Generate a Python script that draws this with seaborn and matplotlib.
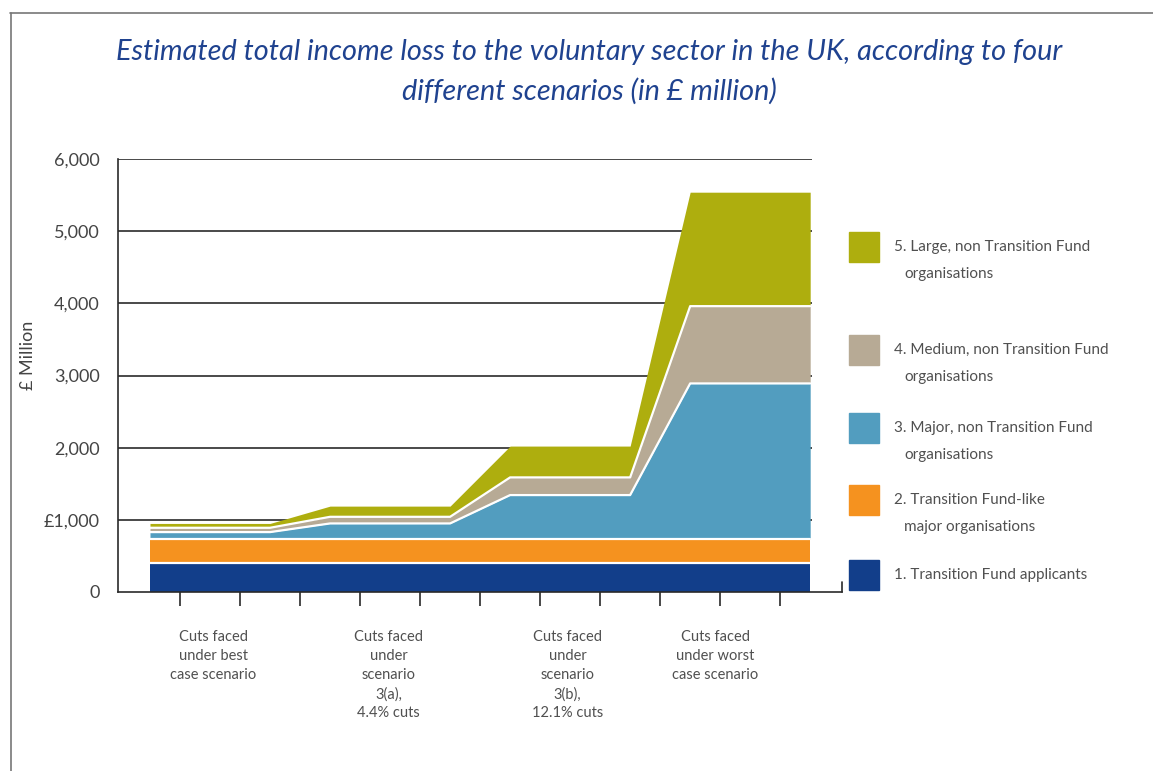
import numpy as np
import pandas as pd
import matplotlib
matplotlib.use("Agg")
import matplotlib.pyplot as plt
from matplotlib.patches import Rectangle
from matplotlib.lines import Line2D
import seaborn as sns

# Scenario labels (x axis) and the losses by organisation type (£ million)
scenarios = [
    "Cuts faced\nunder best\ncase scenario",
    "Cuts faced\nunder\nscenario\n3(a),\n4.4% cuts",
    "Cuts faced\nunder\nscenario\n3(b),\n12.1% cuts",
    "Cuts faced\nunder worst\ncase scenario",
]
groups = [
    "1. Transition Fund applicants",
    "2. Transition Fund-like\n  major organisations",
    "3. Major, non Transition Fund\n  organisations",
    "4. Medium, non Transition Fund\n  organisations",
    "5. Large, non Transition Fund\n  organisations",
]
tf_applicants = [405, 405, 405, 405]
tf_like_major = [330, 330, 330, 330]
major_non_tf = [95, 215, 608, 2155]
medium_non_tf = [60, 92, 245, 1071]
large_non_tf = [60, 148, 434, 1579]
y_ticks = [0, 1000, 2000, 3000, 4000, 5000, 6000]
y_tick_labels = ["0", "£1,000", "2,000", "3,000", "4,000", "5,000", "6,000"]

colors = ["#123e8a", "#f5921f", "#529dbf", "#b7aa95", "#aeae0e"]
text_grey = "#505050"

sns.set_theme(style="white")
plt.rcParams["font.family"] = ["Lato", "DejaVu Sans"]

# each scenario is drawn as a plateau two units wide, one unit between plateaus
plateau_start = np.array([0, 3, 6, 9])
plateau_width = 2
x = np.column_stack([plateau_start, plateau_start + plateau_width]).ravel()

layers = [tf_applicants, tf_like_major, major_non_tf, medium_non_tf, large_non_tf]
df = pd.DataFrame({g: np.repeat(v, 2) for g, v in zip(groups, layers)})
df["x"] = x
cum = df[groups].cumsum(axis=1)

fig = plt.figure(figsize=(11.53, 7.71), dpi=100)
W, H = 1153, 771
ax = fig.add_axes([118 / W, 1 - 592 / H, (842 - 118) / W, (592 - 159) / H])

xmin, xmax = -0.533, 11.53
ax.set_xlim(xmin, xmax)
ax.set_ylim(0, 6000)

# horizontal guides behind the areas
ax.hlines(y_ticks[1:], xmin, 11.03, color="#2a2a2a", lw=1.2, zorder=0)

lower = np.zeros(len(df))
for g, c in zip(groups, colors):
    upper = cum[g].to_numpy()
    ax.fill_between(df["x"], lower, upper, color=c, lw=0, zorder=2)
    lower = upper

# white separators between the stacked layers
for g in groups[:-1]:
    sns.lineplot(x=df["x"], y=cum[g], ax=ax, color="white", lw=1.6,
                 zorder=3, legend=False)

ax.set_xlabel("")
ax.set_ylabel("")
for s in ["top", "right"]:
    ax.spines[s].set_visible(False)
for s in ["left", "bottom"]:
    ax.spines[s].set_color("#2a2a2a")
    ax.spines[s].set_linewidth(1.2)
    ax.spines[s].set_zorder(4)

ax.set_yticks(y_ticks)
ax.set_yticklabels(y_tick_labels)
ax.tick_params(axis="y", length=0, pad=13, labelsize=13, labelcolor="#444444")

ax.set_xticks(np.arange(0.5, 11, 1.0))
ax.set_xticklabels([])
ax.tick_params(axis="x", direction="out", length=10, width=1.2,
               color="#2a2a2a", bottom=True)

# small closing tick at the right end of the x axis
ax.add_line(Line2D([xmax - 0.005, xmax - 0.005], [0, 135], color="#2a2a2a",
                   lw=1.2, clip_on=False, zorder=4))

label_x = [1.05, 3.98, 6.96, 9.42]
for lx, s in zip(label_x, scenarios):
    ax.text(lx, -525, s, ha="center", va="top", fontsize=10.5,
            color=text_grey, linespacing=1.45)

fig.text(28 / W, 1 - 355 / H, "£ Million", rotation=90, ha="center",
         va="center", fontsize=13, color="#444444")

fig.text(589 / W, 1 - 52 / H,
         "Estimated total income loss to the voluntary sector in the UK, according to four",
         ha="center", va="center", fontsize=20.8, style="italic", color="#1f428f")
fig.text(589 / W, 1 - 91 / H, "different scenarios (in £ million)",
         ha="center", va="center", fontsize=20.8, style="italic", color="#1f428f")

# legend, top layer first
legend_rows = [
    (247, 274, 4),
    (350, 377, 3),
    (428, 455, 2),
    (500, 527, 1),
    (575, None, 0),
]
for y1, y2, i in legend_rows:
    fig.patches.append(Rectangle((849 / W, 1 - (y1 + 15) / H), 30 / W, 30 / H,
                                 transform=fig.transFigure, color=colors[i]))
    lines = groups[i].split("\n")
    fig.text(894 / W, 1 - y1 / H, lines[0], ha="left", va="center",
             fontsize=11, color=text_grey)
    if y2 is not None:
        fig.text(904 / W, 1 - y2 / H, lines[1].strip(), ha="left", va="center",
                 fontsize=11, color=text_grey)

# outer frame on the top and left
fig.add_artist(Line2D([10 / W, 1], [1 - 13 / H, 1 - 13 / H], color="#777777",
                      lw=1.2, transform=fig.transFigure))
fig.add_artist(Line2D([11 / W, 11 / W], [0, 1 - 13 / H], color="#777777",
                      lw=1.2, transform=fig.transFigure))

fig.savefig("out.png", dpi=100, facecolor="white")
